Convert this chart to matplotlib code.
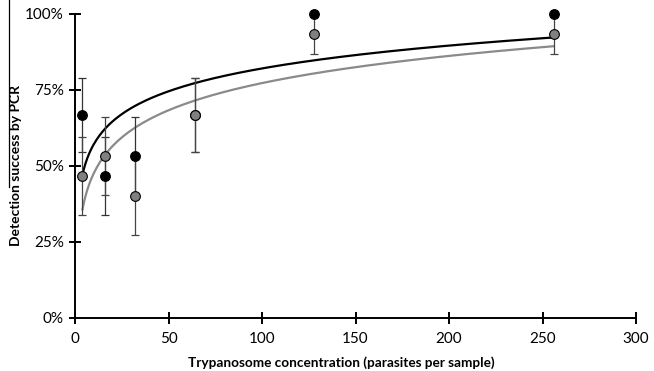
import numpy as np
import matplotlib.pyplot as plt
from matplotlib.lines import Line2D
from matplotlib.ticker import PercentFormatter

# parasites per sample
conc = [4, 16, 32, 64, 128, 256]
# detection success, two series (n = 15 samples each)
success_black = [0.667, 0.467, 0.533, 0.667, 1.0, 1.0]
success_grey = [0.467, 0.533, 0.400, 0.667, 0.933, 0.933]
n_samples = 15

x = np.array(conc, dtype=float)
yb = np.array(success_black)
yg = np.array(success_grey)

# standard errors of a proportion
se_b = np.sqrt(yb * (1 - yb) / n_samples)
se_g = np.sqrt(yg * (1 - yg) / n_samples)

# logarithmic trendlines (least squares on ln x)
xs = np.linspace(x.min(), x.max(), 300)
cb = np.polyfit(np.log(x), yb, 1)
cg = np.polyfit(np.log(x), yg, 1)

plt.rcParams['font.family'] = ['Lato', 'DejaVu Sans']

fig = plt.figure(figsize=(6.54, 3.71), dpi=100)
ax = fig.add_axes([0.1147, 0.1429, 0.8578, 0.8194])

ax.plot(xs, np.polyval(cb, np.log(xs)), color='black', lw=1.6, zorder=2)
ax.plot(xs, np.polyval(cg, np.log(xs)), color='#8a8a8a', lw=1.6, zorder=2)

ax.errorbar(x, yb, yerr=se_b, fmt='none', ecolor='#333333', elinewidth=0.9,
            capsize=2.8, capthick=0.9, zorder=3)
ax.errorbar(x, yg, yerr=se_g, fmt='none', ecolor='#444444', elinewidth=0.9,
            capsize=2.8, capthick=0.9, zorder=3)

ax.plot(x, yb, 'o', color='black', markersize=7, markeredgecolor='black',
        markeredgewidth=0.8, zorder=4, clip_on=False)
ax.plot(x, yg, 'o', color='#808080', markersize=7, markeredgecolor='black',
        markeredgewidth=0.8, zorder=5, clip_on=False)

ax.set_xlim(0, 300)
ax.set_ylim(0, 1)
ax.set_xticks(range(0, 301, 50))
ax.set_yticks([0, 0.25, 0.5, 0.75, 1.0])
ax.yaxis.set_major_formatter(PercentFormatter(1.0, decimals=0))

for s in ['top', 'right']:
    ax.spines[s].set_visible(False)
for s in ['left', 'bottom']:
    ax.spines[s].set_linewidth(1.4)
ax.tick_params(direction='inout', length=8, width=1.4, labelsize=11,
               colors='black')
ax.tick_params(axis='x', pad=6)
ax.tick_params(axis='y', pad=4)

ax.set_xlabel('Trypanosome concentration (parasites per sample)',
              fontsize=9.8, fontweight='bold')
ax.xaxis.set_label_coords(0.474, -0.125)
fig.text(0.024, 0.555, 'Detection success by PCR', rotation=90,
         fontsize=10, fontweight='bold', ha='center', va='center')

# stray vertical rule at the left edge
fig.add_artist(Line2D([0.014, 0.014], [0.496, 1.0], color='black', lw=0.9))

fig.savefig('out.png', dpi=100)
